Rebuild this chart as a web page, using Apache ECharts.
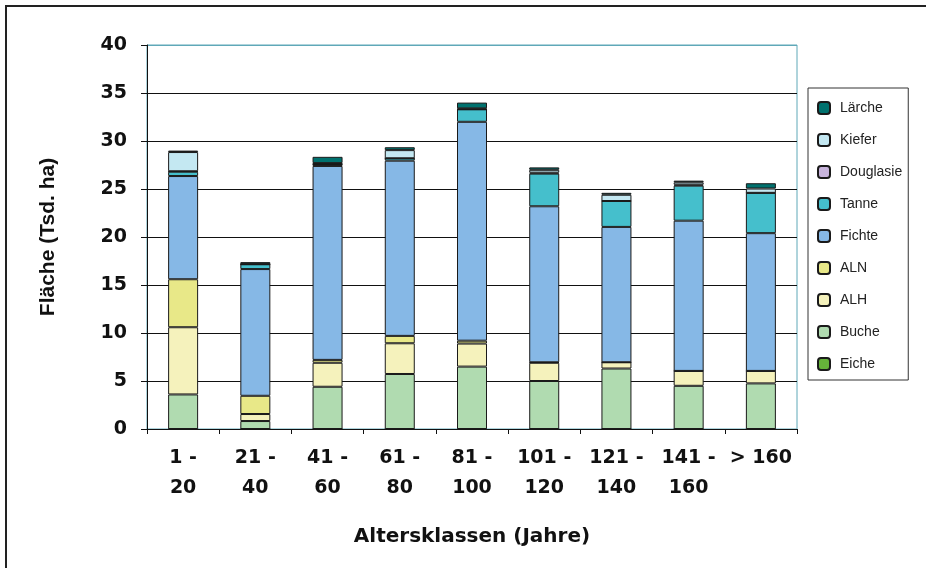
<!DOCTYPE html>
<html>
<head>
<meta charset="utf-8">
<script src="https://cdn.jsdelivr.net/npm/echarts@6/dist/echarts.min.js"></script>
<style>
  html, body { margin: 0; padding: 0; background: #fff; }
  #chart { width: 926px; height: 568px; }
</style>
</head>
<body>
<div id="chart"></div>
<script>
// Age classes (years)
var categories = ['1 -\n20', '21 -\n40', '41 -\n60', '61 -\n80', '81 -\n100',
                  '101 -\n120', '121 -\n140', '141 -\n160', '> 160'];

// Area per tree species, thousand ha (stacked bottom to top)
var eiche     = [0, 0, 0, 0, 0, 0, 0, 0, 0];
var buche     = [3.6, 0.83, 4.4, 5.73, 6.5, 5.0, 6.3, 4.5, 4.75];
var alh       = [7.0, 0.73, 2.5, 3.2, 2.4, 1.9, 0.65, 1.55, 1.3];
var aln       = [5.0, 1.9, 0.3, 0.77, 0.3, 0.05, 0, 0, 0];
var fichte    = [10.75, 13.2, 20.2, 18.25, 22.8, 16.25, 14.1, 15.65, 14.35];
var tanne     = [0.45, 0.5, 0.2, 0.25, 1.3, 3.4, 2.7, 3.65, 4.2];
var douglasie = [0.05, 0, 0, 0, 0, 0.1, 0, 0.1, 0];
var kiefer    = [2.0, 0.05, 0.1, 0.85, 0.1, 0.3, 0.65, 0.25, 0.45];
var laerche   = [0.15, 0.17, 0.65, 0.3, 0.6, 0.25, 0.2, 0.17, 0.55];

var yTicks = [0, 5, 10, 15, 20, 25, 30, 35, 40];

var seriesDefs = [
  { name: 'Eiche',     data: eiche,     color: '#66b23a' },
  { name: 'Buche',     data: buche,     color: '#b0dbb0' },
  { name: 'ALH',       data: alh,       color: '#f5f2bc' },
  { name: 'ALN',       data: aln,       color: '#e8e888' },
  { name: 'Fichte',    data: fichte,    color: '#86b8e6' },
  { name: 'Tanne',     data: tanne,     color: '#45bfcc' },
  { name: 'Douglasie', data: douglasie, color: '#c8b4dc' },
  { name: 'Kiefer',    data: kiefer,    color: '#c4e8f2' },
  { name: 'Lärche',    data: laerche,   color: '#00716e' }
];

var wideFont = '"DejaVu Sans", "Liberation Sans", sans-serif';
var font = '"Liberation Sans", Arial, sans-serif';

var chart = echarts.init(document.getElementById('chart'), null, { renderer: 'canvas' });

chart.setOption({
  backgroundColor: '#fff',
  animation: false,
  color: seriesDefs.map(function (s) { return s.color; }),
  graphic: [{
    type: 'rect',
    shape: { x: 6, y: 6, width: 1000, height: 1000 },
    style: { fill: 'none', stroke: '#222', lineWidth: 2 },
    silent: true
  }],
  grid: {
    left: 147, right: 129, top: 45, bottom: 139,
    show: true, borderColor: '#5fa8b8', borderWidth: 1, backgroundColor: 'transparent'
  },
  legend: {
    orient: 'vertical',
    left: 808, top: 88,
    padding: [13, 6, 9, 9],
    itemGap: 18,
    itemWidth: 12, itemHeight: 12,
    borderColor: '#333', borderWidth: 1,
    data: seriesDefs.slice().reverse().map(function (s) { return s.name; }),
    textStyle: { fontFamily: font, fontSize: 14, color: '#222', padding: [0, 0, 0, 5] }
  },
  xAxis: {
    type: 'category',
    data: categories,
    name: 'Altersklassen (Jahre)',
    nameLocation: 'middle',
    nameGap: 98,
    nameTextStyle: { fontFamily: wideFont, fontSize: 20, fontWeight: 'bold', color: '#111' },
    axisLine: { lineStyle: { color: '#111', width: 1 } },
    axisTick: { show: true, length: 5, lineStyle: { color: '#111' } },
    axisLabel: {
      interval: 0, margin: 14,
      fontFamily: wideFont, fontSize: 19, fontWeight: 'bold', color: '#111', lineHeight: 30
    }
  },
  yAxis: {
    type: 'value',
    min: yTicks[0], max: yTicks[yTicks.length - 1], interval: 5,
    name: 'Fläche (Tsd. ha)',
    nameLocation: 'middle',
    nameGap: 88,
    nameRotate: 90,
    nameTextStyle: { fontFamily: font, fontSize: 21, fontWeight: 'bold', color: '#111' },
    axisLine: { show: true, lineStyle: { color: '#111', width: 1 } },
    axisTick: { show: true, length: 6, lineStyle: { color: '#111' } },
    axisLabel: { margin: 20, fontFamily: wideFont, fontSize: 19, fontWeight: 'bold', color: '#111' },
    splitLine: {
      show: true,
      lineStyle: {
        color: ['#111', '#111', '#111', '#111', '#111', '#111', '#111', '#111', '#5fa8b8'],
        width: 1
      }
    }
  },
  series: seriesDefs.map(function (s) {
    return {
      name: s.name,
      type: 'bar',
      stack: 'total',
      barWidth: 30,
      data: s.data,
      itemStyle: { color: s.color, borderColor: '#1a1a1a', borderWidth: 1 }
    };
  })
});
</script>
</body>
</html>
